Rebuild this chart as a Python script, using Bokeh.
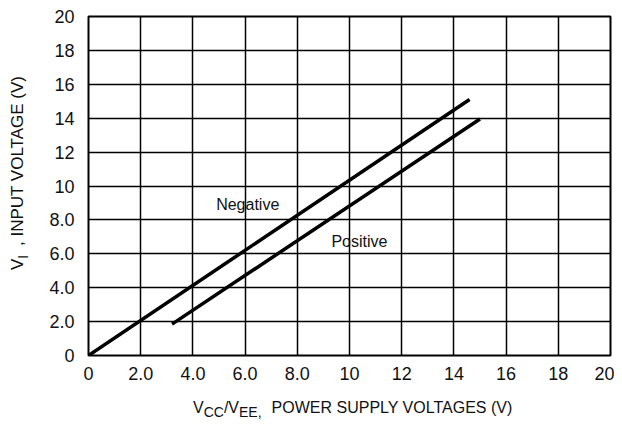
from bokeh.plotting import figure
from bokeh.models import Label, FixedTicker, Range1d, Div
from bokeh.layouts import row, column
from bokeh.embed import file_html
from bokeh.resources import INLINE

# ---- data ----
x_ticks = [0, 2, 4, 6, 8, 10, 12, 14, 16, 18, 20]
x_tick_labels = ["0", "2.0", "4.0", "6.0", "8.0", "10", "12", "14", "16", "18", "20"]
y_ticks = [0, 2, 4, 6, 8, 10, 12, 14, 16, 18, 20]
y_tick_labels = ["0", "2.0", "4.0", "6.0", "8.0", "10", "12", "14", "16", "18", "20"]

negative_x = [0.0, 14.6]
negative_y = [0.0, 15.1]
positive_x = [3.2, 15.0]
positive_y = [1.85, 13.95]

FONT = "Liberation Sans"
TXT = "#111111"

p = figure(width=584, height=385, x_range=Range1d(0, 20), y_range=Range1d(0, 20),
           output_backend="svg", toolbar_location=None,
           min_border_left=58, min_border_right=4, min_border_top=16, min_border_bottom=30,
           margin=0)
p.background_fill_color = "white"
p.border_fill_color = "white"
p.outline_line_color = "black"
p.outline_line_width = 2

for ax, ticks, labels in ((p.xaxis[0], x_ticks, x_tick_labels), (p.yaxis[0], y_ticks, y_tick_labels)):
    ax.ticker = FixedTicker(ticks=ticks)
    ax.major_label_overrides = {float(t): l for t, l in zip(ticks, labels)}
    ax.axis_line_color = None
    ax.major_tick_line_color = None
    ax.minor_tick_line_color = None
    ax.major_tick_out = 0
    ax.major_tick_in = 0
    ax.major_label_text_font = FONT
    ax.major_label_text_font_size = "18px"
    ax.major_label_text_color = TXT
p.xaxis.major_label_standoff = 11
p.yaxis.major_label_standoff = 14

p.grid.grid_line_color = "black"
p.grid.grid_line_alpha = 1.0
p.grid.grid_line_width = 1.5

p.line(negative_x, negative_y, line_color="black", line_width=3.5)
p.line(positive_x, positive_y, line_color="black", line_width=3.5)

p.add_layout(Label(x=6.1, y=8.92, text="Negative", text_font=FONT, text_font_size="16px",
                   text_color=TXT, text_align="center", text_baseline="middle"))
p.add_layout(Label(x=10.38, y=6.73, text="Positive", text_font=FONT, text_font_size="16px",
                   text_color=TXT, text_align="center", text_baseline="middle"))

sub = "font-size:14px;vertical-align:-4px;"
ylab_html = (
    f'<span style="display:inline-block;position:relative;left:9px;top:270px;'
    f'transform:rotate(-90deg);transform-origin:0 0;white-space:nowrap;'
    f'font-family:\'{FONT}\';font-size:17px;line-height:18px;color:{TXT};">'
    f'V<span style="font-size:14px;vertical-align:-5px;margin-right:4px;">I</span> , INPUT VOLTAGE (V)</span>'
)
xlab_html = (
    f'<span style="display:inline-block;position:relative;left:163px;top:13px;'
    f'white-space:nowrap;font-family:\'{FONT}\';font-size:16px;line-height:20px;color:{TXT};">'
    f'V<span style="{sub}">CC</span>/V<span style="{sub}">EE,</span>'
    f'<span style="margin-left:10px;">POWER SUPPLY VOLTAGES (V)</span></span>'
)
left_div = Div(text=ylab_html, width=30, height=420, margin=0)
bottom_div = Div(text=xlab_html, width=584, height=35, margin=0)

layout = row(left_div, column(p, bottom_div, margin=0), margin=0)

open("out.html", "w").write(file_html(layout, INLINE))
